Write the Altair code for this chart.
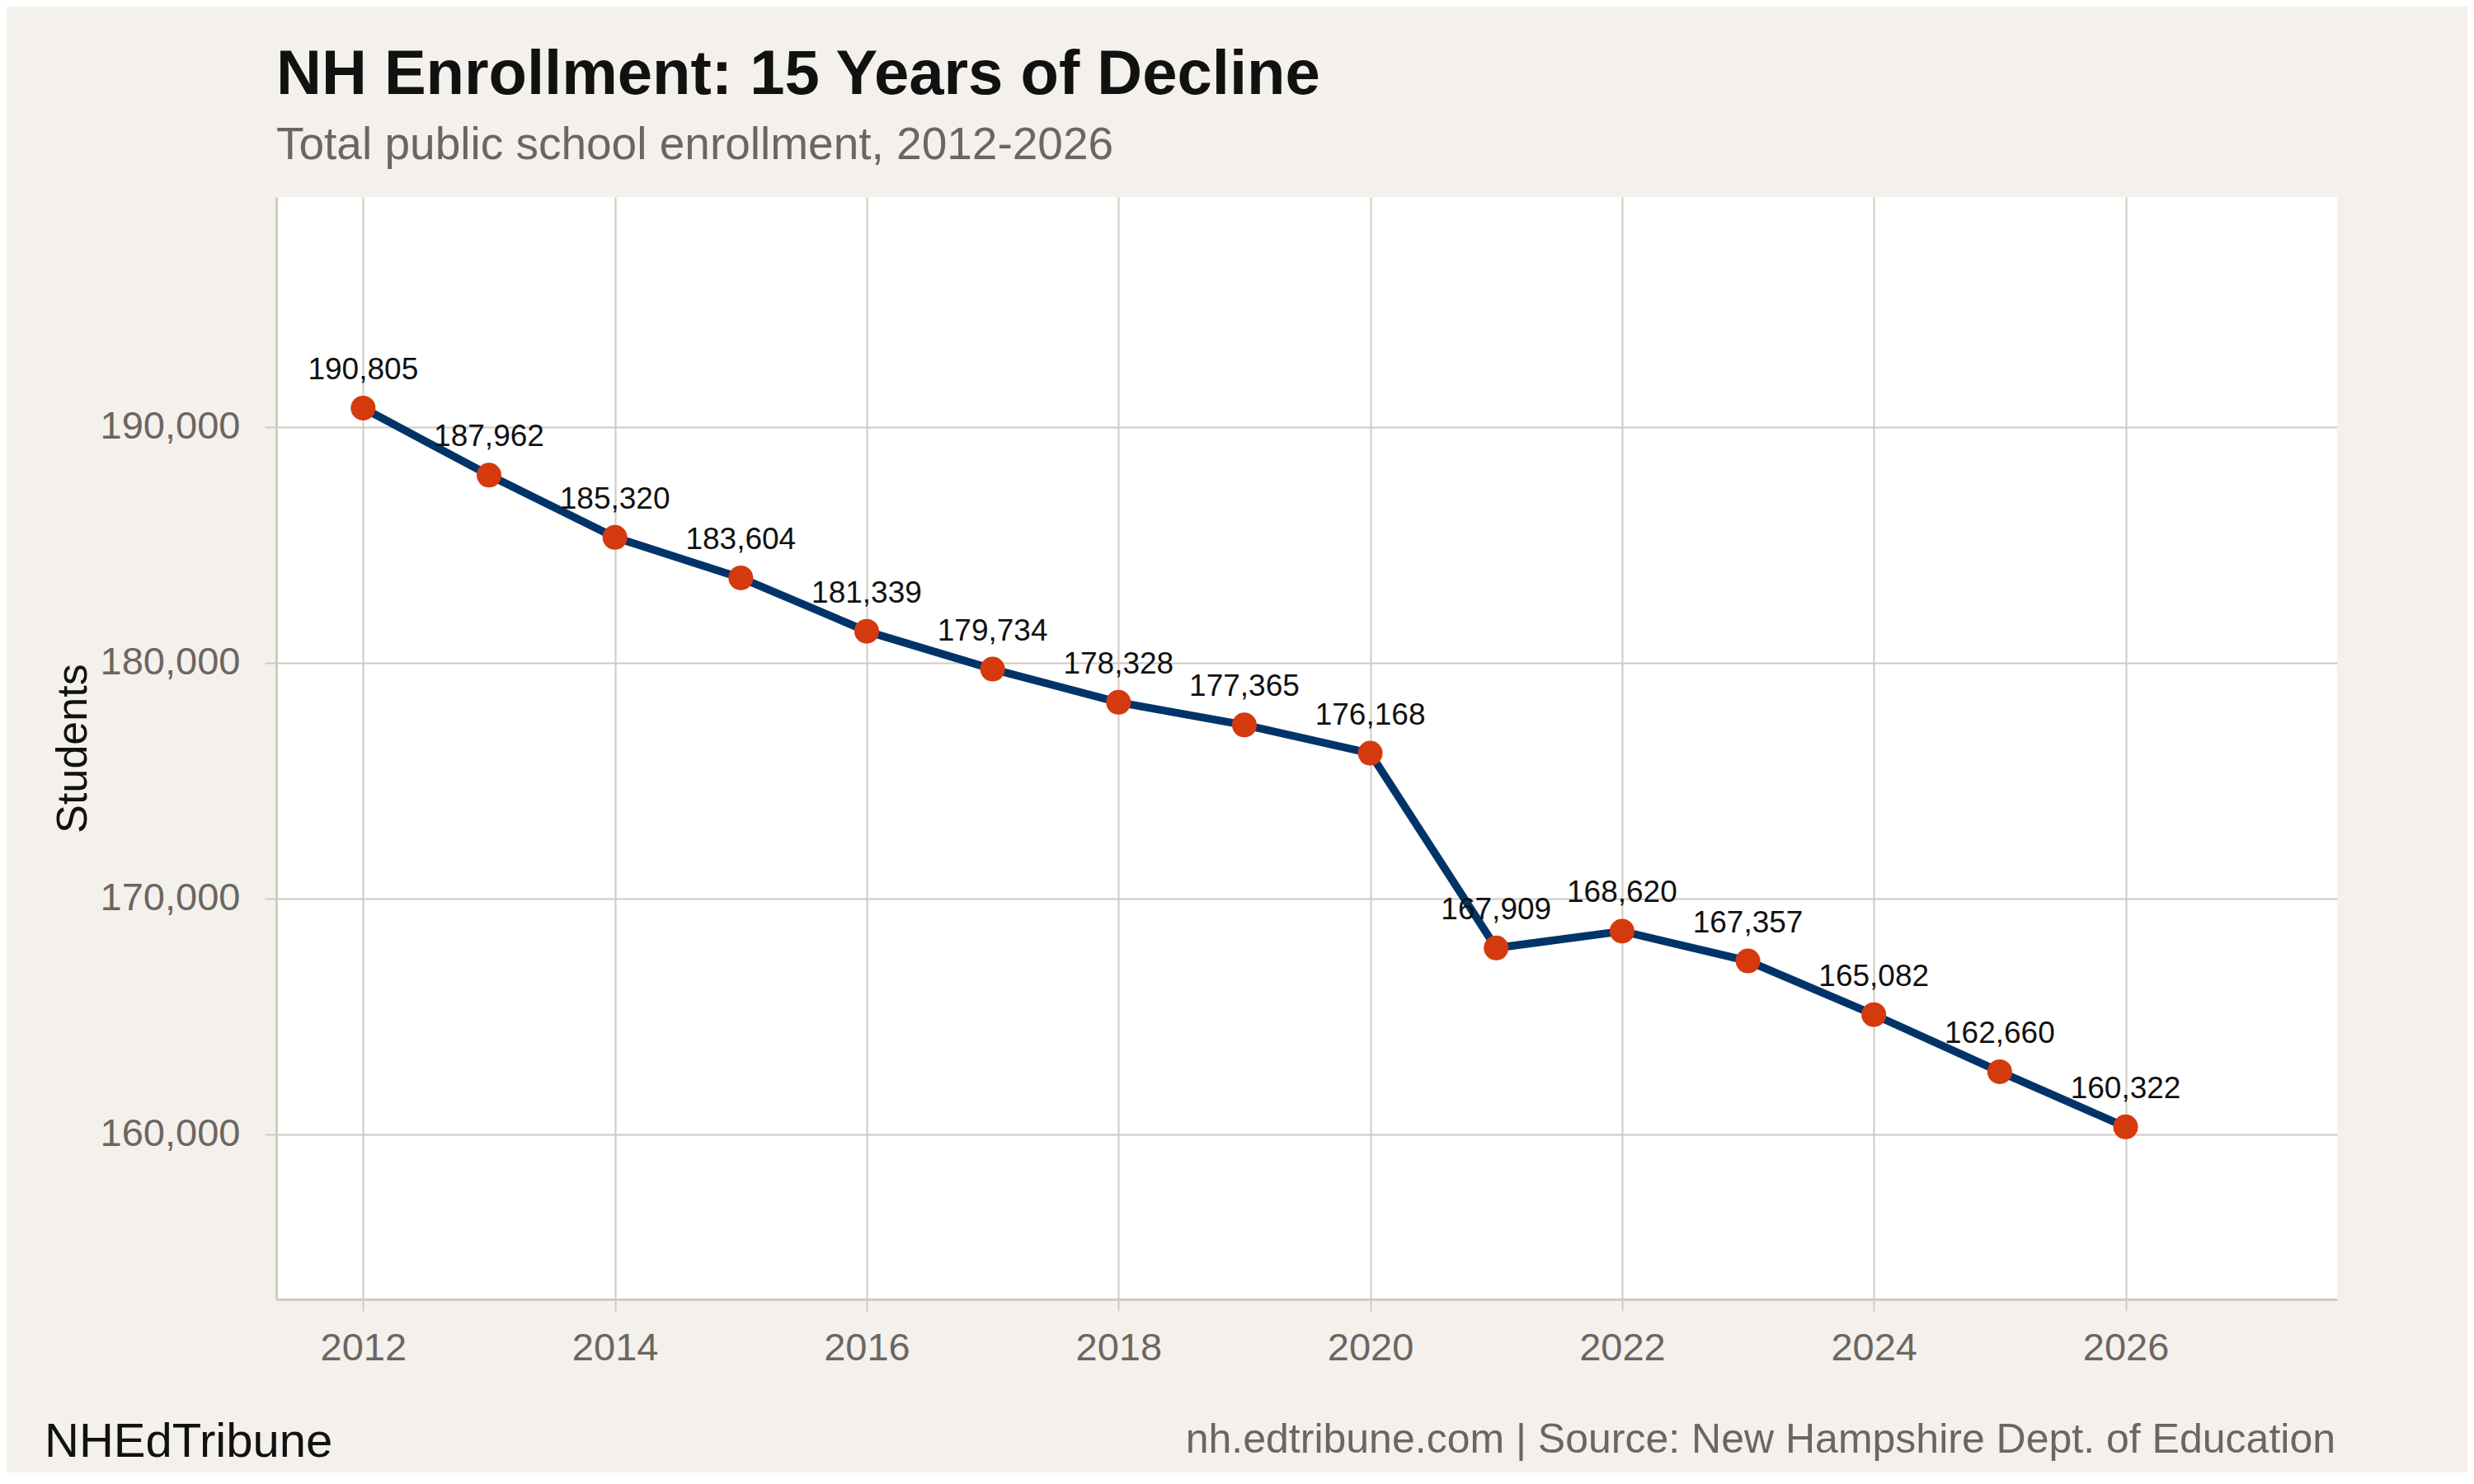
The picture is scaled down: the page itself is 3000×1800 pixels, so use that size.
import altair as alt
import pandas as pd

years = [2012, 2013, 2014, 2015, 2016, 2017, 2018, 2019, 2020, 2021, 2022, 2023, 2024, 2025, 2026]
enrollment = [190805, 187962, 185320, 183604, 181339, 179734, 178328, 177365, 176168,
              167909, 168620, 167357, 165082, 162660, 160322]
x_ticks = [2012, 2014, 2016, 2018, 2020, 2022, 2024, 2026]
y_ticks = [160000, 170000, 180000, 190000]

TITLE = "NH Enrollment: 15 Years of Decline"
SUBTITLE = "Total public school enrollment, 2012-2026"
FOOT_LEFT = "NHEdTribune"
FOOT_RIGHT = "nh.edtribune.com | Source: New Hampshire Dept. of Education"

FONT = "Liberation Sans"
BG = "#F4F1EC"
GRID = "#D0CAC2"
GRAY = "#6B6661"
LINE = "#003468"
DOT = "#D5390E"

df = pd.DataFrame({"year": years, "students": enrollment})

W, H = 2499, 1337

xs = alt.X("year:Q", scale=alt.Scale(domain=[2011.31, 2027.68], nice=False, zero=False),
           axis=alt.Axis(values=x_ticks, format="d", title=None, labelFontSize=47,
                         labelColor=GRAY, labelFont=FONT, tickSize=14, labelPadding=22,
                         tickColor=GRID, tickWidth=2, domainColor=GRID, domainWidth=3,
                         gridColor=GRID, gridWidth=2))
ys = alt.Y("students:Q", scale=alt.Scale(domain=[153007, 199755], nice=False, zero=False),
           axis=alt.Axis(values=y_ticks, format=",d", title="Students", titleFontSize=52,
                         titleFont=FONT, titleFontWeight="normal", titleColor="#111111",
                         titlePadding=20, labelFontSize=47, labelColor=GRAY, labelFont=FONT,
                         tickSize=14, labelPadding=30, tickColor=GRID, tickWidth=2,
                         domainColor=GRID, domainWidth=3, gridColor=GRID, gridWidth=2))

base = alt.Chart(df)
line = base.mark_line(color=LINE, strokeWidth=9.5).encode(x=xs, y=ys)
pts = base.mark_circle(color=DOT, opacity=1, size=900).encode(x="year:Q", y="students:Q")
labels = base.mark_text(font=FONT, fontSize=37, color="#111111", dy=-35,
                        baseline="alphabetic", align="center").encode(
    x="year:Q", y="students:Q", text=alt.Text("students:Q", format=","))

foot_l = alt.Chart(pd.DataFrame({"t": [FOOT_LEFT]})).mark_text(
    font=FONT, fontSize=58, color="#111111", align="left", baseline="alphabetic").encode(
    text="t:N", x=alt.value(-281), y=alt.value(1528))
foot_r = alt.Chart(pd.DataFrame({"t": [FOOT_RIGHT]})).mark_text(
    font=FONT, fontSize=50, color=GRAY, align="right", baseline="alphabetic").encode(
    text="t:N", x=alt.value(2497), y=alt.value(1523))

chart = alt.layer(line, pts, labels, foot_l, foot_r).properties(
    width=W, height=H,
    background=BG,
    autosize=alt.AutoSizeParams(type="none"),
    padding={"left": 327, "top": 231, "right": 158, "bottom": 210},
    title=alt.TitleParams(TITLE, subtitle=SUBTITLE, anchor="start", frame="group",
                          font=FONT, fontSize=76, fontWeight="bold", color="#111111",
                          subtitleFont=FONT, subtitleFontSize=55, subtitleColor=GRAY,
                          subtitlePadding=20, offset=34),
).configure_view(fill="white", stroke=None)

chart.save("out.html", embed_options={"renderer": "svg", "actions": False})
